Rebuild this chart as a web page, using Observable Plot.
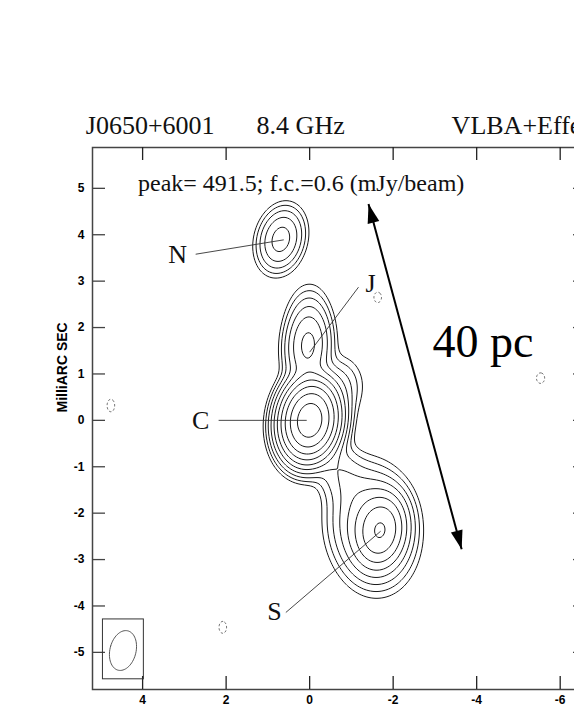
<!DOCTYPE html>
<html><head><meta charset="utf-8">
<script src="https://cdn.jsdelivr.net/npm/d3@7"></script>
<script src="https://cdn.jsdelivr.net/npm/@observablehq/plot@0.6"></script>
<style>
html,body{margin:0;padding:0;overflow:hidden;background:#fff;width:574px;height:710px}
#chart{position:absolute;left:0;top:0;width:620px;height:710px}
#chart svg{max-width:none !important;width:620px !important;height:710px !important}
</style></head><body><div id="chart"></div>
<script>
// ---- axis ticks (milliarcsec) ----
const xTicks = [4, 2, 0, -2, -4, -6];
const yTicks = [5, 4, 3, 2, 1, 0, -1, -2, -3, -4, -5];
const xDomain = [5.2, -6.63];
const yDomain = [-5.8, 5.88];

// ---- contour levels (mJy/beam): f.c. x 2^k ----
const levels = [0.6, 1.2, 2.4, 4.8, 9.6, 19.2, 38.4, 76.8, 153.6, 307.2];
const negLevel = [0.6];

// ---- brightness components (x, y in mas; peak mJy/beam; sigmas mas; PA deg) ----
const compName  = ["C", "J", "J2", "R", "B", "S1", "S2", "N"];
const compX     = [0.00, 0.04, 0.05, -0.75, -0.75, -1.70, -1.50, 0.69];
const compY     = [0.00, 1.60, 2.20, 0.75, -1.15, -2.37, -2.30, 3.90];
const compPeak  = [488, 22, 2.5, 2.5, 4, 65, 20, 13];
const compSMaj  = [0.38, 0.42, 0.40, 0.35, 0.45, 0.37, 0.58, 0.345];
const compSMin  = [0.30, 0.26, 0.26, 0.30, 0.30, 0.28, 0.45, 0.26];
const compPA    = [-12, -5, -5, 0, 36, -12, 10, -20];

// ---- small negative blobs (dashed contours) ----
const negX    = [4.76, -1.63, -5.53, 2.08];
const negY    = [0.32, 2.65, 0.91, -4.46];
const negPeak = [-0.8, -0.8, -0.8, -0.8];
const negSMaj = [0.18, 0.15, 0.15, 0.17];
const negSMin = [0.12, 0.12, 0.13, 0.12];

// ---- restoring beam ----
const beamX = [4.47], beamY = [-4.96], beamMaj = [0.88], beamMin = [0.62], beamPA = [-18];
const beamBoxX = [4.95, 3.97], beamBoxY = [-4.29, -5.58];

// ---- annotations ----
const titleParts = ["J0650+6001", "8.4 GHz", "VLBA+Effelsberg"];
const titleX = [5.36, 1.27, -3.40];
const titleY = [6.34, 6.34, 6.34];
const peakText = ["peak= 491.5; f.c.=0.6 (mJy/beam)"];
const peakX = [4.11], peakY = [5.11];
const labelText = ["N", "J", "C", "S"];
const labelX = [3.16, -1.46, 2.61, 0.84];
const labelY = [3.58, 2.95, 0.0, -4.12];
const leadX1 = [2.73, -1.17, 2.18, 0.57];
const leadY1 = [3.58, 2.87, 0.0, -4.14];
const leadX2 = [0.62, 0.00, 0.07, -1.70];
const leadY2 = [3.89, 1.47, 0.0, -2.39];
const scaleText = ["40 pc"];
const scaleTextX = [-2.94], scaleTextY = [1.68];
const arrowX = [-1.41, -3.64], arrowY = [4.66, -2.78];
const yLabel = ["MilliARC SEC"];

// ---- layout ----
const W = 620, H = 710, mL = 92, mR = 34, mT = 147, mB = 21;
const innerW = W - mL - mR, innerH = H - mT - mB;
const kx = innerW / (xDomain[0] - xDomain[1]);
const ky = innerH / (yDomain[1] - yDomain[0]);

function gauss(x, y, x0, y0, p, smaj, smin, pa) {
  const t = pa * Math.PI / 180;
  const dx = x - x0, dy = y - y0;
  const uMaj = dx * Math.sin(t) + dy * Math.cos(t);
  const uMin = dx * Math.cos(t) - dy * Math.sin(t);
  return p * Math.exp(-0.5 * (uMaj * uMaj / (smaj * smaj) + uMin * uMin / (smin * smin)));
}
function field(x, y) {
  let s = 0;
  for (let i = 0; i < compX.length; i++) s += gauss(x, y, compX[i], compY[i], compPeak[i], compSMaj[i], compSMin[i], compPA[i]);
  return s;
}
function negField(x, y) {
  let s = 0;
  for (let i = 0; i < negX.length; i++) s += gauss(x, y, negX[i], negY[i], negPeak[i], negSMaj[i], negSMin[i], 0);
  return -s;
}

// beam ellipse outline from beam parameters
const beamPts = d3.range(0, 73).map(k => {
  const a = k / 72 * 2 * Math.PI, t = beamPA[0] * Math.PI / 180;
  const u = beamMaj[0] / 2 * Math.sin(a), v = beamMin[0] / 2 * Math.cos(a);
  return {x: beamX[0] + u * Math.sin(t) + v * Math.cos(t), y: beamY[0] + u * Math.cos(t) - v * Math.sin(t)};
});

// arrow heads (filled triangles) oriented along the arrow in screen space
const pxA = arrowX.map(x => (xDomain[0] - x) * kx), pyA = arrowY.map(y => (yDomain[1] - y) * ky);
function headSymbol(dirx, diry) {
  const n = Math.hypot(dirx, diry), ux = dirx / n, uy = diry / n, L = 19, w = 6;
  return {draw(ctx) {
    ctx.moveTo(0, 0);
    ctx.lineTo(-ux * L - uy * w, -uy * L + ux * w);
    ctx.lineTo(-ux * L + uy * w, -uy * L - ux * w);
    ctx.closePath();
  }};
}
const headTop = headSymbol(pxA[0] - pxA[1], pyA[0] - pyA[1]);
const headBot = headSymbol(pxA[1] - pxA[0], pyA[1] - pyA[0]);

const serif = "Liberation Serif, Times New Roman, serif";
const sans = "Liberation Sans, Arial, sans-serif";

const chart = Plot.plot({
  width: W, height: H,
  marginLeft: mL, marginRight: mR, marginTop: mT, marginBottom: mB,
  style: {background: "#fff", color: "#000", maxWidth: "none"},
  x: {domain: xDomain},
  y: {domain: yDomain},
  marks: [
    Plot.contour({value: field, x1: xDomain[0], x2: xDomain[1], y1: yDomain[0], y2: yDomain[1],
      thresholds: levels, pixelSize: 1, fill: "none", stroke: "#1a1a1a", strokeWidth: 1}),
    Plot.contour({value: negField, x1: xDomain[0], x2: xDomain[1], y1: yDomain[0], y2: yDomain[1],
      thresholds: negLevel, pixelSize: 1, fill: "none", stroke: "#555", strokeWidth: 0.8, strokeDasharray: "2.5,2"}),
    Plot.frame({stroke: "#444", strokeWidth: 1.5}),
    Plot.tickY(yTicks, {y: d => d, insetRight: innerW - 13, stroke: "#444", strokeWidth: 1.3}),
    Plot.tickY(yTicks, {y: d => d, insetLeft: innerW - 13, stroke: "#444", strokeWidth: 1.3}),
    Plot.tickX(xTicks, {x: d => d, insetTop: innerH - 13, stroke: "#222", strokeWidth: 1.3}),
    Plot.tickX(xTicks, {x: d => d, insetBottom: innerH - 13, stroke: "#222", strokeWidth: 1.3}),
    Plot.axisY(yTicks, {anchor: "left", tickSize: 0, tickPadding: 8, tickFormat: d => String(d),
      fontSize: 12, fontWeight: "bold", fontFamily: sans, label: null}),
    Plot.axisX(xTicks, {anchor: "bottom", tickSize: 0, tickPadding: 6, tickFormat: d => String(d),
      fontSize: 12, fontWeight: "bold", fontFamily: sans, label: null}),
    Plot.text(yLabel, {frameAnchor: "left", rotate: -90, dx: -30, dy: -6, text: d => d,
      fontSize: 14, fontWeight: "bold", fontFamily: sans}),
    Plot.rect([0], {x1: () => beamBoxX[0], x2: () => beamBoxX[1], y1: () => beamBoxY[0], y2: () => beamBoxY[1],
      fill: "none", stroke: "#333", strokeWidth: 1}),
    Plot.line(beamPts, {x: "x", y: "y", stroke: "#444", strokeWidth: 0.9}),
    Plot.link(labelText, {x1: (d, i) => leadX1[i], y1: (d, i) => leadY1[i], x2: (d, i) => leadX2[i], y2: (d, i) => leadY2[i],
      stroke: "#333", strokeWidth: 0.9}),
    Plot.text(labelText, {x: (d, i) => labelX[i], y: (d, i) => labelY[i], text: d => d,
      fontSize: 26, fontFamily: serif, fill: "#111"}),
    Plot.text(titleParts, {x: (d, i) => titleX[i], y: (d, i) => titleY[i], text: d => d, textAnchor: "start",
      fontSize: 26, fontFamily: serif, fill: "#111"}),
    Plot.text(peakText, {x: (d, i) => peakX[i], y: (d, i) => peakY[i], text: d => d, textAnchor: "start",
      fontSize: 24, fontFamily: serif, fill: "#111"}),
    Plot.text(scaleText, {x: (d, i) => scaleTextX[i], y: (d, i) => scaleTextY[i], text: d => d, textAnchor: "start",
      fontSize: 46, fontFamily: serif, fill: "#000"}),
    Plot.link([0], {x1: () => arrowX[0], y1: () => arrowY[0], x2: () => arrowX[1], y2: () => arrowY[1],
      stroke: "#000", strokeWidth: 2}),
    Plot.dot([0], {x: () => arrowX[0], y: () => arrowY[0], symbol: headTop, fill: "#000", stroke: "none"}),
    Plot.dot([0], {x: () => arrowX[1], y: () => arrowY[1], symbol: headBot, fill: "#000", stroke: "none"})
  ]
});
document.getElementById("chart").appendChild(chart);
</script></body></html>
